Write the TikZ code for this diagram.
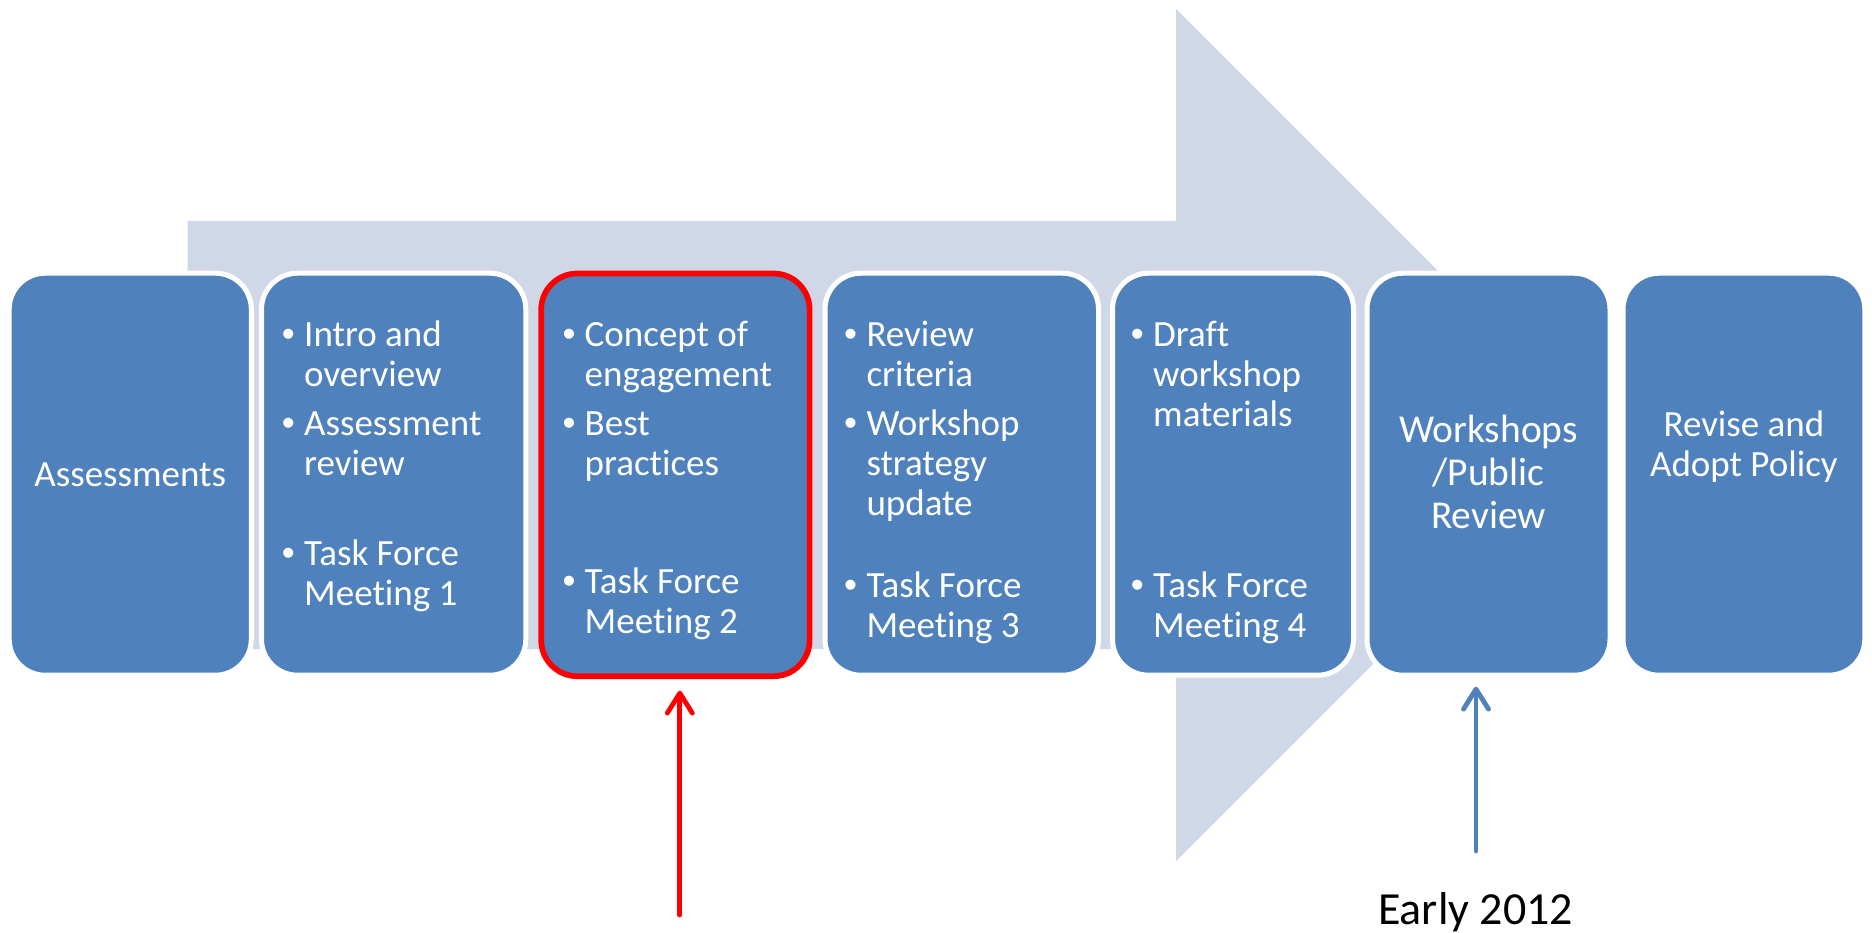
\documentclass[tikz,border=0pt]{standalone}
\usepackage{fontspec}
\setmainfont{Carlito}[RawFeature={-liga;-clig}]
\newfontfamily\bulletfont{Liberation Sans}
\usetikzlibrary{arrows.meta}
\definecolor{boxblue}{RGB}{79,129,189}
\definecolor{arrowgrey}{RGB}{208,216,232}
\definecolor{markred}{RGB}{255,0,0}
\tikzset{
  stepbox/.style={draw=white, line width=5pt, fill=boxblue, rounded corners=36pt,
    minimum height=402pt, outer sep=0pt, inner sep=0pt},
  txt/.style={text=white, font=\fontsize{37}{40}\selectfont, inner sep=0pt, anchor=base west},
  ctxt/.style={text=white, font=\fontsize{37}{40}\selectfont, inner sep=0pt, anchor=base},
  bigtxt/.style={text=white, font=\fontsize{39.5}{43}\selectfont, inner sep=0pt, anchor=base},
  bul/.style={text=white, font=\bulletfont\fontsize{37}{40}\selectfont, inner sep=0pt, anchor=base},
  pointer/.style={line width=4.8pt, line cap=round, line join=round,
    -{Straight Barb[length=20pt,width=25pt,line cap=round,line join=round]}},
}
\begin{document}
\begin{tikzpicture}[x=1pt,y=-1pt]
\useasboundingbox (0,0) rectangle (1872,933);
% big background arrow
\fill[arrowgrey] (187.6,221) -- (1176,221) -- (1176,9) -- (1602,435) -- (1176,861) -- (1176,649) -- (187.6,649) -- cycle;
% boxes
\node[stepbox, minimum width=242.1pt] (b1) at (130.25,474.2) {};
\node[stepbox, minimum width=264.3pt] (b2) at (393.65,474.2) {};
\node[stepbox, draw=markred, line width=5.7pt, minimum width=268.4pt, minimum height=402.7pt] (b3) at (675.4,474.85) {};
\node[stepbox, minimum width=273.5pt] (b4) at (961.75,474.2) {};
\node[stepbox, minimum width=241pt] (b5) at (1233,474.2) {};
\node[stepbox, minimum width=243pt] (b6) at (1488.5,474.2) {};
\node[stepbox, minimum width=241.8pt] (b7) at (1743.9,474.2) {};
% box 1
\node[ctxt] (b1l1) at (130.25,486) {Assessments};
% box 2
\node[bul] (b2d1) at (288.4,346.7) {•};
\node[txt] (b2l1) at (304,346.7) {Intro and};
\node[txt] (b2l2) at (304,386.7) {overview};
\node[bul] (b2d2) at (288.4,435) {•};
\node[txt] (b2l3) at (304,435) {Assessment};
\node[txt] (b2l4) at (304,475) {review};
\node[bul] (b2d3) at (288.4,565) {•};
\node[txt] (b2l5) at (304,565) {Task Force};
\node[txt] (b2l6) at (304,605) {Meeting 1};
% box 3
\node[bul] (b3d1) at (569,346.7) {•};
\node[txt] (b3l1) at (584.5,346.7) {Concept of};
\node[txt] (b3l2) at (584.5,386.7) {engagement};
\node[bul] (b3d2) at (569,435) {•};
\node[txt] (b3l3) at (584.5,435) {Best};
\node[txt] (b3l4) at (584.5,475) {practices};
\node[bul] (b3d3) at (569,593) {•};
\node[txt] (b3l5) at (584.5,593) {Task Force};
\node[txt] (b3l6) at (584.5,633) {Meeting 2};
% box 4
\node[bul] (b4d1) at (850.7,346.7) {•};
\node[txt] (b4l1) at (866.3,346.7) {Review};
\node[txt] (b4l2) at (866.3,386.7) {criteria};
\node[bul] (b4d2) at (850.7,435) {•};
\node[txt] (b4l3) at (866.3,435) {Workshop};
\node[txt] (b4l4) at (866.3,475) {strategy};
\node[txt] (b4l5) at (866.3,515) {update};
\node[bul] (b4d3) at (850.7,597.5) {•};
\node[txt] (b4l6) at (866.3,597.5) {Task Force};
\node[txt] (b4l7) at (866.3,637.5) {Meeting 3};
% box 5
\node[bul] (b5d1) at (1137.4,346.7) {•};
\node[txt] (b5l1) at (1153,346.7) {Draft};
\node[txt] (b5l2) at (1153,386.7) {workshop};
\node[txt] (b5l3) at (1153,426.7) {materials};
\node[bul] (b5d2) at (1137.4,597.5) {•};
\node[txt] (b5l4) at (1153,597.5) {Task Force};
\node[txt] (b5l5) at (1153,637.5) {Meeting 4};
% box 6
\node[bigtxt] (b6l1) at (1488.5,442) {Workshops};
\node[bigtxt] (b6l2) at (1488.5,485) {/Public};
\node[bigtxt] (b6l3) at (1488.5,528) {Review};
% box 7
\node[ctxt] (b7l1) at (1743.9,436.7) {Revise and};
\node[ctxt] (b7l2) at (1743.9,476.7) {Adopt Policy};
% label
\node[anchor=base, inner sep=0pt, font=\fontsize{46}{50}\selectfont] (early) at (1475.6,924) {Early 2012};
% pointers
\coordinate (rtail) at (679.8,915);
\coordinate (btail) at (1476,851);
\draw[pointer, markred, shorten >=14.5pt] (rtail) -- (rtail |- b3.south);
\draw[pointer, boxblue, shorten >=11.5pt] (btail) -- (btail |- b6.south);
\end{tikzpicture}
\end{document}
